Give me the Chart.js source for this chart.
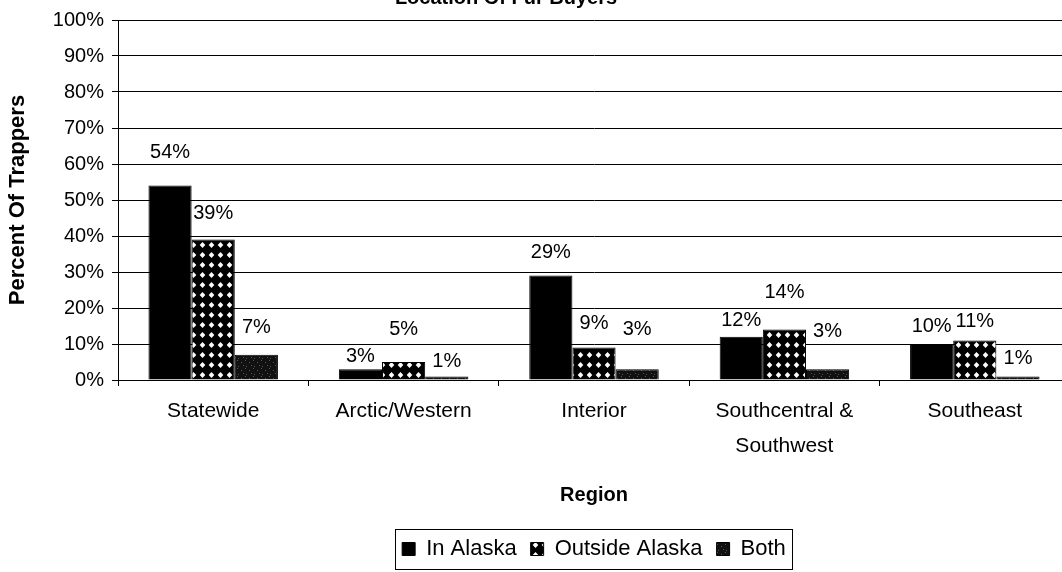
<!DOCTYPE html>
<html>
<head>
<meta charset="utf-8">
<script src="https://cdn.jsdelivr.net/npm/chart.js@4.4.1/dist/chart.umd.min.js"></script>
<style>
  html, body { margin: 0; padding: 0; background: #fff; overflow: hidden; }
  #wrap { position: absolute; left: 0; top: 0; width: 1080px; height: 572px; }
</style>
</head>
<body>
<div id="wrap"><canvas id="myChart"></canvas></div>
<script>
const categories = ["Statewide", "Arctic/Western", "Interior", ["Southcentral &", "Southwest"], "Southeast"];
const inAlaska = [54, 3, 29, 12, 10];
const outsideAlaska = [39, 5, 9, 14, 11];
const both = [7, 1, 3, 3, 1];
const yTicks = [0, 10, 20, 30, 40, 50, 60, 70, 80, 90, 100];

// how far above the bar top each label sits (px), as placed in the original
const labelLift = [
  [33, 13, 23, 16, 18],
  [26, 33, 24, 37, 19],
  [27, 15, 40, 38, 18],
];

const FONT = "'Liberation Sans', Arial, sans-serif";

// white diamonds on black
function diamondPattern() {
  let c = document.createElement("canvas");
  c.width = 9; c.height = 10;
  let g = c.getContext("2d");
  g.fillStyle = "#000";
  g.fillRect(0, 0, 9, 10);
  g.fillStyle = "#fff";
  g.beginPath();
  g.moveTo(4.5, 2);
  g.lineTo(7.3, 5);
  g.lineTo(4.5, 8);
  g.lineTo(1.7, 5);
  g.closePath();
  g.fill();
  return g.createPattern(c, "repeat");
}

// dark speckle
function speckPattern() {
  let c = document.createElement("canvas");
  c.width = 8; c.height = 8;
  let g = c.getContext("2d");
  g.fillStyle = "#111";
  g.fillRect(0, 0, 8, 8);
  g.fillStyle = "#555";
  g.fillRect(1, 2, 1, 1);
  g.fillRect(5, 0, 1, 1);
  g.fillRect(3, 5, 1, 1);
  g.fillRect(6, 6, 1, 1);
  return g.createPattern(c, "repeat");
}

const topTitle = {
  id: "topTitle",
  afterDraw(chart) {
    let ctx = chart.ctx;
    ctx.save();
    ctx.font = "bold 20px " + FONT;
    ctx.fillStyle = "#000";
    ctx.textAlign = "center";
    ctx.textBaseline = "alphabetic";
    ctx.fillText("Location Of Fur Buyers", 506, 4);
    ctx.restore();
  },
};

const valueLabels = {
  id: "valueLabels",
  afterDatasetsDraw(chart) {
    let ctx = chart.ctx;
    ctx.save();
    ctx.font = "20px " + FONT;
    ctx.fillStyle = "#000";
    ctx.textAlign = "center";
    ctx.textBaseline = "middle";
    chart.data.datasets.forEach((ds, d) => {
      chart.getDatasetMeta(d).data.forEach((bar, i) => {
        ctx.fillText(ds.data[i] + "%", bar.x, bar.y - labelLift[d][i]);
      });
    });
    ctx.restore();
  },
};

const legendBox = {
  id: "legendBox",
  afterDraw(chart) {
    let boxes = chart.legend.legendHitBoxes;
    if (!boxes || !boxes.length) return;
    let l = Math.min(...boxes.map(b => b.left)) - 7;
    let r = Math.max(...boxes.map(b => b.left + b.width)) + 6;
    let t = boxes[0].top - 9;
    let h = boxes[0].height + 18;
    let ctx = chart.ctx;
    ctx.save();
    ctx.strokeStyle = "#000";
    ctx.lineWidth = 1;
    ctx.strokeRect(Math.round(l) + 0.5, Math.round(t) + 0.5, Math.round(r - l), Math.round(h));
    ctx.restore();
  },
};

new Chart("myChart", {
  type: "bar",
  data: {
    labels: categories,
    datasets: [
      { label: "In Alaska", data: inAlaska, backgroundColor: "#000", borderColor: "#000", borderWidth: 1 },
      { label: "Outside Alaska", data: outsideAlaska, backgroundColor: diamondPattern(), borderColor: "#000", borderWidth: 1 },
      { label: "Both", data: both, backgroundColor: speckPattern(), borderColor: "#000", borderWidth: 1 },
    ],
  },
  options: {
    responsive: true,
    maintainAspectRatio: false,
    animation: false,
    layout: { padding: { top: 19, left: 0, right: 10, bottom: 2 } },
    datasets: { bar: { categoryPercentage: 0.68, barPercentage: 1.0 } },
    plugins: {
      legend: {
        position: "bottom",
        fullSize: false,
        labels: {
          color: "#000",
          font: { family: FONT, size: 22 },
          boxWidth: 13,
          boxHeight: 13,
          padding: 14,
        },
      },
      title: { display: false },
      tooltip: { enabled: false },
    },
    scales: {
      x: {
        afterFit(scale) { scale.height = 144; },
        grid: { display: true, drawOnChartArea: false, drawTicks: true, tickLength: 6, color: "#000" },
        border: { display: true, color: "#000" },
        ticks: {
          color: "#000",
          maxRotation: 0,
          autoSkip: false,
          padding: 8,
          font: { family: FONT, size: 21, lineHeight: 1.65 },
        },
        title: {
          display: true,
          text: "Region",
          color: "#000",
          font: { family: FONT, size: 20, weight: "bold" },
          padding: { top: 0, bottom: 17 },
        },
      },
      y: {
        min: 0,
        max: 100,
        afterFit(scale) { scale.width = 118; },
        afterBuildTicks(scale) { scale.ticks = yTicks.map(v => ({ value: v })); },
        grid: { color: "#000", lineWidth: 1, drawTicks: true, tickLength: 6 },
        border: { display: true, color: "#000" },
        ticks: {
          color: "#000",
          padding: 8,
          font: { family: FONT, size: 20 },
          callback: v => v + "%",
        },
        title: {
          display: true,
          text: "Percent Of Trappers",
          color: "#000",
          font: { family: FONT, size: 22, weight: "bold" },
          padding: { top: 5, bottom: 0 },
        },
      },
    },
  },
  plugins: [topTitle, valueLabels, legendBox],
});
</script>
</body>
</html>
